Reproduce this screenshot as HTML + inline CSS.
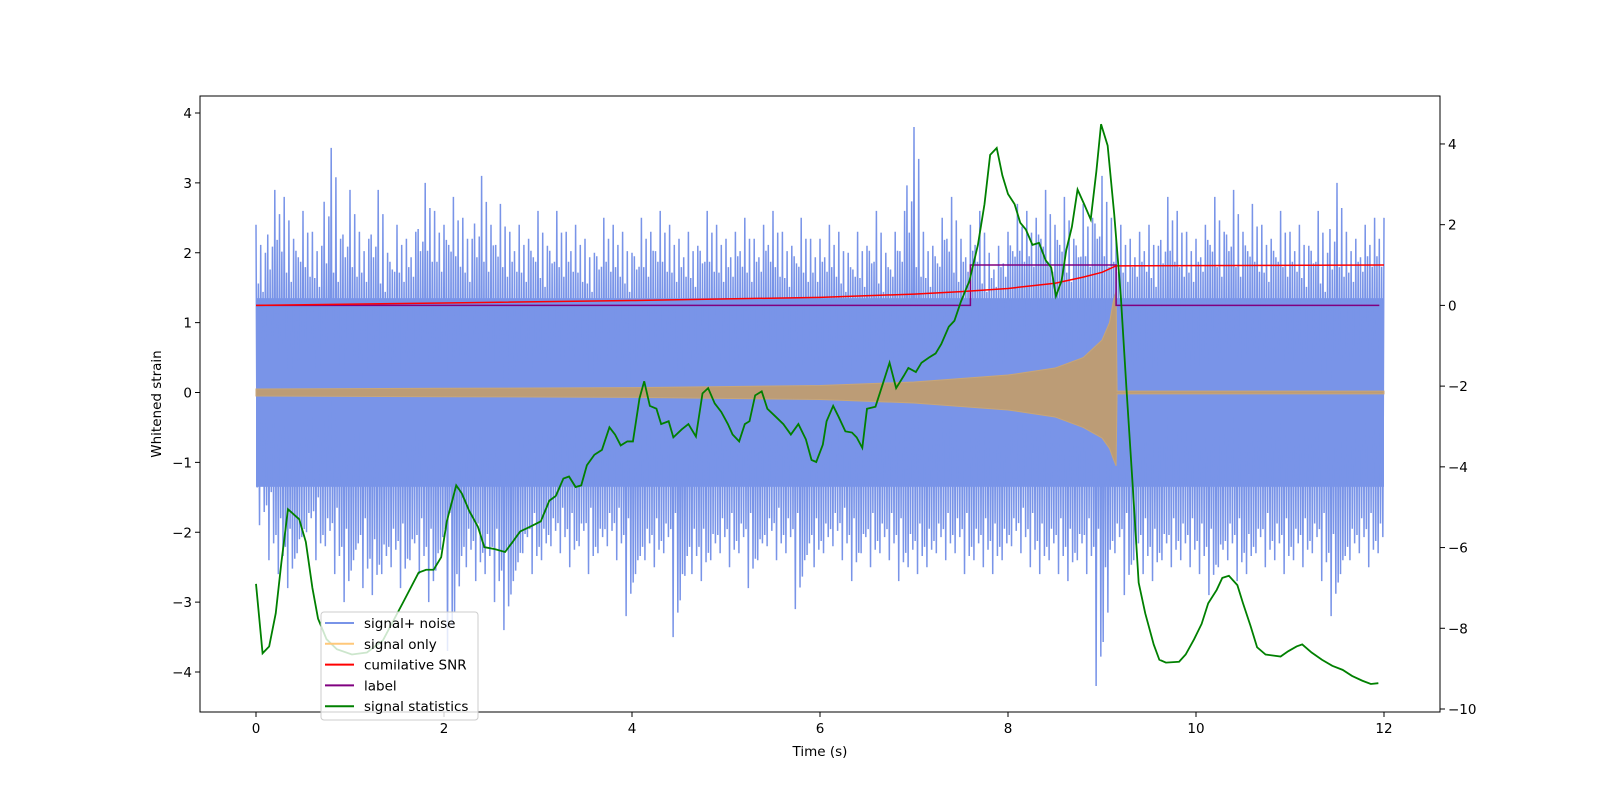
<!DOCTYPE html>
<html><head><meta charset="utf-8"><style>
html,body{margin:0;padding:0;background:#fff}
svg text{font-family:"DejaVu Sans","Liberation Sans",sans-serif;fill:#000}
</style></head><body>
<svg id="chart" width="1600" height="800" xmlns="http://www.w3.org/2000/svg">
<g id="plot"></g>
</svg>
<script>
const noiseMax=[2.4,2.0,2.9,2.8,2.2,2.6,2.3,2.1,3.5,2.2,
2.9,2.3,2.2,2.9,2.0,2.4,2.2,2.3,3.0,2.6,
2.4,2.8,2.5,2.2,3.1,2.4,2.7,2.3,2.4,2.2,
2.6,2.1,2.6,2.3,2.4,2.2,2.0,2.5,2.4,2.3,
2.0,2.5,2.3,2.6,2.4,2.2,2.3,2.1,2.6,2.4,
2.2,2.3,2.5,2.2,2.4,2.6,2.3,2.1,2.5,2.2,
2.2,2.4,2.3,2.0,2.3,2.1,2.6,2.0,2.3,2.6,
3.8,2.3,2.1,2.5,2.8,2.2,2.4,2.6,2.0,2.1,
2.3,2.7,2.6,2.5,2.9,2.4,2.8,2.2,2.7,2.5,
3.1,2.5,2.4,2.2,2.3,2.4,2.1,2.8,2.6,2.3,
2.2,2.4,2.8,2.3,2.9,2.3,2.7,2.4,2.2,2.6,
2.3,2.4,2.1,2.6,2.0,3.0,2.3,2.2,2.4,2.5,2.5];
const noiseMin=[-1.6,-1.9,-2.4,-2.6,-2.8,-2.3,-2.0,-2.4,-2.2,-2.6,
-3.0,-2.4,-2.8,-2.9,-2.6,-2.5,-2.8,-2.4,-2.6,-3.0,
-2.3,-3.7,-2.6,-2.5,-2.7,-2.6,-3.0,-3.4,-2.7,-2.3,
-2.6,-2.4,-2.2,-2.3,-2.5,-2.2,-2.6,-2.3,-2.2,-2.4,
-3.2,-2.6,-2.4,-2.5,-2.3,-3.5,-2.6,-2.6,-2.7,-2.4,
-2.3,-2.5,-2.3,-2.8,-2.4,-2.2,-2.4,-2.3,-3.1,-2.4,
-2.5,-2.3,-2.2,-2.4,-2.7,-2.3,-2.5,-2.3,-2.4,-2.7,
-2.5,-2.6,-2.5,-2.3,-2.4,-2.3,-2.6,-2.4,-2.5,-2.6,
-2.4,-2.2,-2.3,-2.5,-2.6,-2.4,-2.6,-2.7,-2.4,-2.6,
-4.2,-2.5,-2.3,-2.9,-2.4,-2.6,-2.7,-2.4,-2.5,-2.4,
-2.5,-2.6,-2.9,-2.5,-2.4,-2.7,-2.6,-2.3,-2.5,-2.4,
-2.6,-2.4,-2.5,-2.3,-2.7,-3.2,-2.6,-2.4,-2.3,-2.5,-2.3];
const noiseStep=0.1;
const subMaxFactor=[1,0.78,0.88,0.72];
const subMinFactor=[0.85,1,0.75,0.9];
const bandTop=1.35, bandBottom=-1.35;
const sigT=[0,2,4,6,7,7.5,8,8.5,8.8,9.0,9.08,9.12,9.15,9.16,12];
const sigTop=[0.05,0.06,0.07,0.1,0.15,0.2,0.25,0.35,0.5,0.75,1.0,1.3,1.45,0.02,0.02];
const sigBot=[-0.05,-0.06,-0.07,-0.1,-0.15,-0.2,-0.25,-0.35,-0.5,-0.65,-0.8,-0.95,-1.05,-0.02,-0.02];
const snrT=[0,2,4,6,7,7.5,8,8.5,8.8,9.0,9.15,12];
const snrV=[0,0.06,0.12,0.2,0.28,0.34,0.42,0.55,0.7,0.82,0.98,1.0];
const labT=[0,7.6,7.6,9.15,9.15,11.95];
const labV=[0,0,1,1,0,0];
const statT=[0,0.07,0.14,0.21,0.27,0.34,0.46,0.53,0.6,0.66,0.75,0.86,1.02,1.18,1.35,1.56,1.73,1.81,1.89,1.97,2.03,2.13,2.19,2.27,2.36,2.43,2.54,2.65,2.73,2.81,2.92,3.03,3.12,3.19,3.27,3.33,3.4,3.46,3.52,3.6,3.68,3.76,3.82,3.88,3.95,4.01,4.08,4.13,4.19,4.26,4.31,4.39,4.44,4.53,4.6,4.68,4.75,4.81,4.88,4.95,5.02,5.07,5.14,5.2,5.25,5.31,5.38,5.44,5.53,5.61,5.69,5.77,5.85,5.91,5.96,6.03,6.07,6.14,6.2,6.27,6.34,6.39,6.45,6.5,6.59,6.67,6.74,6.81,6.89,6.94,7.02,7.08,7.16,7.23,7.29,7.37,7.43,7.5,7.59,7.68,7.75,7.81,7.88,7.94,8.0,8.07,8.13,8.19,8.26,8.33,8.4,8.46,8.51,8.57,8.62,8.68,8.74,8.81,8.88,8.94,8.99,9.06,9.13,9.2,9.26,9.33,9.39,9.46,9.55,9.61,9.68,9.82,9.89,9.98,10.06,10.13,10.22,10.28,10.35,10.44,10.5,10.58,10.65,10.74,10.9,10.98,11.07,11.13,11.23,11.34,11.45,11.56,11.66,11.77,11.86,11.94];
const statV=[-6.9,-8.62,-8.45,-7.63,-6.37,-5.05,-5.3,-5.86,-7.0,-7.76,-8.27,-8.52,-8.65,-8.6,-8.3,-7.38,-6.62,-6.55,-6.55,-6.24,-5.35,-4.46,-4.66,-5.1,-5.48,-5.99,-6.04,-6.11,-5.86,-5.6,-5.48,-5.35,-4.84,-4.72,-4.29,-4.24,-4.5,-4.46,-3.96,-3.7,-3.58,-3.02,-3.2,-3.47,-3.37,-3.37,-2.3,-1.88,-2.49,-2.56,-2.94,-2.87,-3.27,-3.07,-2.94,-3.25,-2.18,-2.05,-2.43,-2.64,-2.94,-3.2,-3.37,-2.94,-2.87,-2.23,-2.13,-2.56,-2.76,-2.94,-3.2,-2.94,-3.32,-3.83,-3.88,-3.45,-2.87,-2.49,-2.77,-3.12,-3.15,-3.27,-3.53,-2.56,-2.51,-1.93,-1.42,-2.05,-1.75,-1.55,-1.65,-1.42,-1.29,-1.19,-0.96,-0.53,-0.38,0.1,0.61,1.5,2.51,3.73,3.9,3.22,2.76,2.51,2.05,1.88,1.5,1.55,1.12,0.94,0.23,0.61,1.37,1.95,2.87,2.51,2.13,3.32,4.49,3.96,2.26,0.23,-2.05,-4.59,-6.87,-7.63,-8.4,-8.78,-8.85,-8.83,-8.65,-8.27,-7.89,-7.38,-7.05,-6.75,-6.7,-6.93,-7.38,-7.94,-8.47,-8.65,-8.7,-8.57,-8.45,-8.4,-8.6,-8.78,-8.93,-9.03,-9.18,-9.3,-9.38,-9.36];
const xTicks=[0,2,4,6,8,10,12];
const yTicks=[-4,-3,-2,-1,0,1,2,3,4];
const y2Ticks=[-10,-8,-6,-4,-2,0,2,4];

const L=200,R=1440,T=96,B=712;
const X=t=>256+t*94;
const Y=v=>392.5-v*69.875;
const Y2=v=>305.4-v*40.36;
const NS='http://www.w3.org/2000/svg';
const plot=document.getElementById('plot');
function mk(tag,attrs,parent){const e=document.createElementNS(NS,tag);for(const k in attrs)e.setAttribute(k,attrs[k]);(parent||plot).appendChild(e);return e;}

const nb=mk('rect',{x:X(0),y:Y(bandTop),width:X(12)-X(0),height:Y(bandBottom)-Y(bandTop),fill:'#7994e8'});


let pts=[];
const sub=subMaxFactor.length;
for(let i=0;i<noiseMax.length;i++){
  for(let k=0;k<sub;k++){
    const t=i*noiseStep+k*noiseStep/sub;
    if(t>12)break;
    const j=(k%2===0)?i:Math.min(i+1,noiseMax.length-1);
    pts.push(X(t)+','+Y(noiseMax[j]*subMaxFactor[k]));
    const t2=t+noiseStep/(2*sub);
    if(t2<=12)pts.push(X(t2)+','+Y(noiseMin[j]*subMinFactor[k]));
  }
}
const nl=mk('polyline',{points:pts.join(' '),fill:'none',stroke:'#7994e8','stroke-width':1.5});


let sp=sigT.map((t,i)=>X(t)+','+Y(sigTop[i]));
for(let i=sigT.length-1;i>=0;i--)sp.push(X(sigT[i])+','+Y(sigBot[i]));
const sg=mk('polygon',{points:sp.join(' '),fill:'#bc9c76',stroke:'#c8a678','stroke-width':1});


const lb=mk('polyline',{points:labT.map((t,i)=>X(t)+','+Y2(labV[i])).join(' '),fill:'none',stroke:'#800080','stroke-width':1.5});


const sn=mk('polyline',{points:snrT.map((t,i)=>X(t)+','+Y2(snrV[i])).join(' '),fill:'none',stroke:'#ff0000','stroke-width':1.5});


const st=mk('polyline',{points:statT.map((t,i)=>X(t)+','+Y2(statV[i])).join(' '),fill:'none',stroke:'#008000','stroke-width':1.8});


const fr=mk('rect',{x:L,y:T,width:R-L,height:B-T,fill:'none',stroke:'#000','stroke-width':1});


xTicks.forEach(v=>{
  const l=mk('line',{x1:X(v),x2:X(v),y1:B,y2:B+5,stroke:'#000'});
  
  
  const t=mk('text',{x:X(v),y:B+21,'text-anchor':'middle','font-size':13.5});t.textContent=v;
  
  
});
yTicks.forEach(v=>{
  const l=mk('line',{x1:L-5,x2:L,y1:Y(v),y2:Y(v),stroke:'#000'});
  
  
  const t=mk('text',{x:L-8,y:Y(v)+5,'text-anchor':'end','font-size':13.5});t.textContent=(v<0?'\u2212'+(-v):v);
  
  
});
y2Ticks.forEach(v=>{
  const l=mk('line',{x1:R,x2:R+5,y1:Y2(v),y2:Y2(v),stroke:'#000'});
  
  
  const t=mk('text',{x:R+8,y:Y2(v)+5,'text-anchor':'start','font-size':13.5});t.textContent=(v<0?'\u2212'+(-v):v);
  
  
});
const xl=mk('text',{x:(L+R)/2,y:756,'text-anchor':'middle','font-size':13.5});xl.textContent='Time (s)';


const yl=mk('text',{x:161,y:(T+B)/2,'text-anchor':'middle','font-size':13.5,transform:'rotate(-90 161 '+((T+B)/2)+')'});yl.textContent='Whitened strain';


const lg=mk('g',{});


mk('rect',{x:321,y:612,width:157,height:108,rx:3,fill:'rgba(255,255,255,0.8)',stroke:'#ccc'},lg);
const legNames=['signal+ noise','signal only','cumilative SNR','label','signal statistics'];
const legCols=['#7994e8','#ffc87a','#ff0000','#800080','#008000'];
legNames.forEach((n,i)=>{
  const y=623+i*20.8;
  const ln=mk('line',{x1:325,x2:354,y1:y,y2:y,stroke:legCols[i],'stroke-width':2},lg);
  
  
  const t=mk('text',{x:364,y:y+5,'font-size':13.5},lg);t.textContent=n;
  
  
});
</script>
</body></html>
